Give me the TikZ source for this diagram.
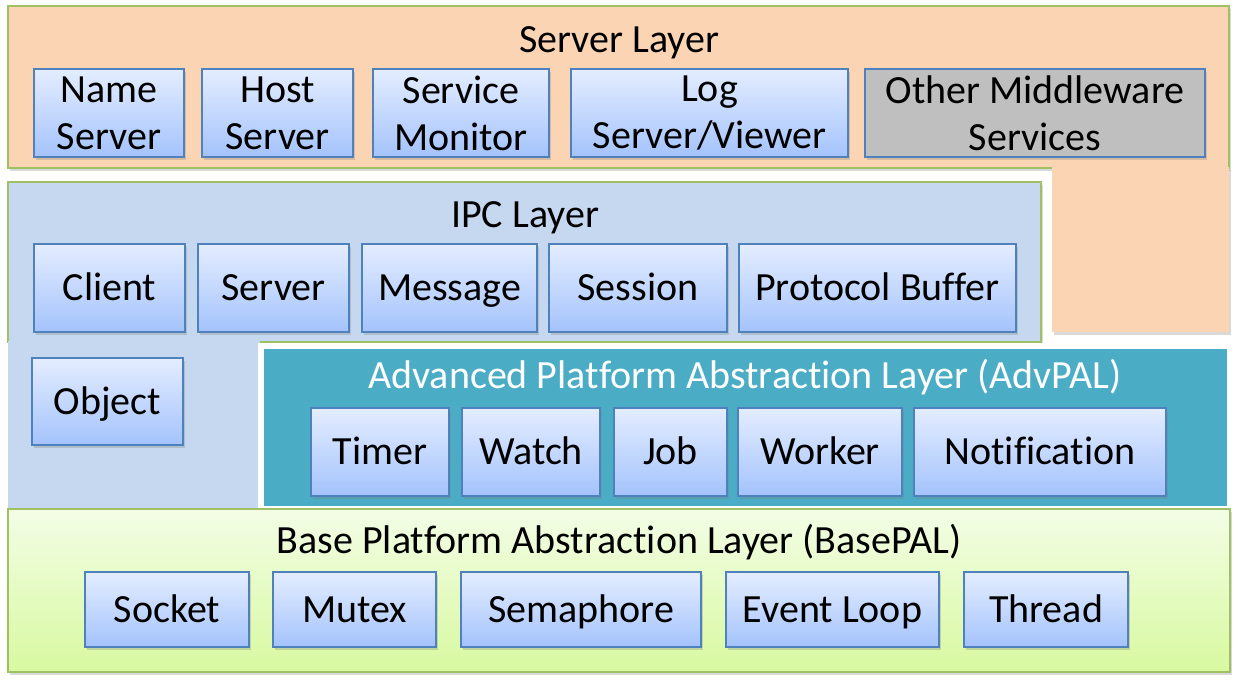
\documentclass[tikz,border=0pt]{standalone}
\usepackage{fontspec}
\setmainfont{Carlito}[Ligatures = NoCommon]
\usetikzlibrary{shadows}

\definecolor{srvfill}{RGB}{251,212,180}
\definecolor{ipcfill}{RGB}{197,216,239}
\definecolor{advfill}{RGB}{75,172,198}
\definecolor{basetop}{RGB}{243,253,230}
\definecolor{basebot}{RGB}{216,249,160}
\definecolor{layerline}{RGB}{160,192,100}
\definecolor{boxline}{RGB}{79,129,189}
\definecolor{boxtop}{RGB}{228,237,255}
\definecolor{boxbot}{RGB}{164,195,252}
\definecolor{otherfill}{RGB}{191,191,191}

\begin{document}
\begin{tikzpicture}[
    x = 1pt, y = -1pt,
    font = \fontsize{40}{47}\selectfont,
    shade/.style = {drop shadow = {shadow xshift = 2pt,
        shadow yshift = -3pt, opacity = 0.3}},
    layer/.style = {inner sep = 0pt, shade},
    band/.style = {layer, draw = layerline, line width = 1.5pt},
    title/.style = {inner sep = 0pt, text height = 25pt, text depth = 0pt},
    box/.style = {draw = boxline,
      line width = 1.5pt,
      inner sep = 0pt,
      align = center,
      top color = boxtop, bottom color = boxbot,
      minimum height = 88pt,
      shade},
    flat/.style = {text height = 25pt, text depth = 0pt},
    ]

    \useasboundingbox (0, 0) rectangle (1242, 682);

    \node at (618.5, 87)
    [band, fill = srvfill, minimum width = 1221, minimum height = 162,
      name = srv_layer] {};
    \node at (1140.5, 249.5)
    [layer, fill = srvfill, minimum width = 177, minimum height = 165,
      name = srv_col] {};

    \node at (524.5, 262)
    [band, fill = ipcfill, minimum width = 1033, minimum height = 160,
      name = ipc_layer] {};
    \node at (134, 425)
    [layer, fill = ipcfill, minimum width = 252, minimum height = 168,
      name = ipc_col] {};

    \node at (745.5, 427.5)
    [layer, fill = advfill, draw = white, line width = 6pt,
      minimum width = 969, minimum height = 163, name = adv_layer] {};

    \node at (619, 590.5)
    [band, top color = basetop, bottom color = basebot,
      minimum width = 1222, minimum height = 163, name = base_layer] {};

    \node at (619, 40) [title, name = srv_title] {Server Layer};
    \node at (525, 215) [title, name = ipc_title] {IPC Layer};
    \node at (745, 376) [title, white, name = adv_title]
    {Advanced Platform Abstraction Layer (AdvPAL)};
    \node at (619, 541) [title, name = base_title]
    {Base Platform Abstraction Layer (BasePAL)};

    \node at (109, 113)
    [box, minimum width = 150, name = name_srv] {Name\\Server};
    \node at (277.5, 113)
    [box, minimum width = 151, name = host_srv] {Host\\Server};
    \node at (461, 113)
    [box, minimum width = 176, name = svc_mon] {Service\\Monitor};
    \node at (709.5, 113)
    [box, minimum width = 277, name = log_srv] {Log\\Server/Viewer};
    \node at (1035, 113)
    [box, fill = otherfill, top color = otherfill, bottom color = otherfill,
      minimum width = 340, name = other_mw] {Other Middleware\\Services};

    \node at (109.5, 288)
    [box, flat, minimum width = 151, name = client] {Client};
    \node at (273.5, 288)
    [box, flat, minimum width = 151, name = server] {Server};
    \node at (449.5, 288)
    [box, flat, minimum width = 175, name = message] {Message};
    \node at (638, 288)
    [box, flat, minimum width = 178, name = session] {Session};
    \node at (877.5, 288)
    [box, flat, minimum width = 277, name = protobuf] {Protocol Buffer};

    \node at (107.5, 401.5)
    [box, flat, minimum width = 151, minimum height = 87, name = object]
    {Object};

    \node at (380, 452)
    [box, flat, minimum width = 138, name = timer] {Timer};
    \node at (531, 452)
    [box, flat, minimum width = 138, name = watch] {Watch};
    \node at (670.5, 452)
    [box, flat, minimum width = 113, name = job] {Job};
    \node at (820, 452)
    [box, flat, minimum width = 164, name = worker] {Worker};
    \node at (1040, 452)
    [box, flat, minimum width = 252, name = notif] {Notification};

    \node at (167, 609.5)
    [box, flat, minimum width = 164, minimum height = 75, name = socket]
    {Socket};
    \node at (354.5, 609.5)
    [box, flat, minimum width = 163, minimum height = 75, name = mutex]
    {Mutex};
    \node at (581, 609.5)
    [box, flat, minimum width = 240, minimum height = 75, name = sema]
    {Semaphore};
    \node at (832.5, 609.5)
    [box, flat, minimum width = 213, minimum height = 75, name = evloop]
    {Event Loop};
    \node at (1046, 609.5)
    [box, flat, minimum width = 164, minimum height = 75, name = thread]
    {Thread};

  \end{tikzpicture}
\end{document}
